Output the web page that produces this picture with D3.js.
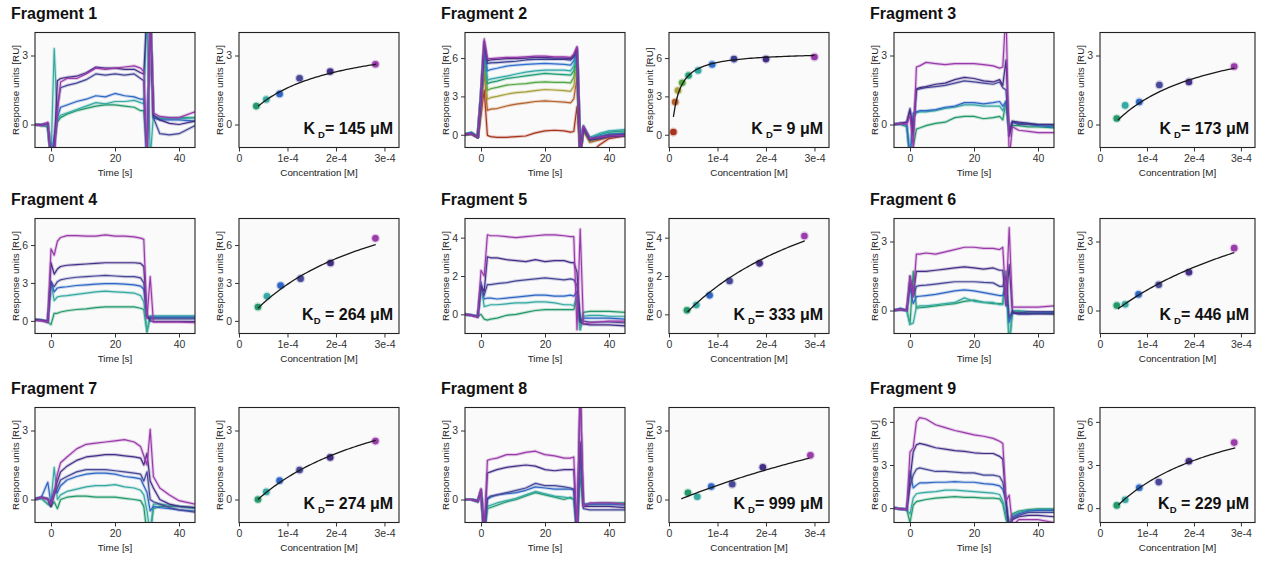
<!DOCTYPE html>
<html>
<head>
<meta charset="utf-8">
<script src="https://cdn.jsdelivr.net/npm/d3@7"></script>
<style>
  body { margin: 0; background: #fff; }
  svg { font-family: "Liberation Sans", Arial, sans-serif; }
</style>
</head>
<body>
<div id="vis"></div>
<script>

// ---- data ----

// time points (s) shared by every sensorgram
var times = [-5, -3, -1, 0, 1, 2, 3, 5, 8, 11, 14, 17, 20, 23, 26, 28, 29, 30, 31, 32, 34, 37, 40, 45];
var timeTicks = [0, 20, 40];
var concTicks = [0, 1e-4, 2e-4, 3e-4];
var concTickLabels = ["0", "1e-4", "2e-4", "3e-4"];

var fragmentNames = ["Fragment 1", "Fragment 2", "Fragment 3", "Fragment 4", "Fragment 5",
                     "Fragment 6", "Fragment 7", "Fragment 8", "Fragment 9"];
var kdValues = [145, 9, 173, 264, 333, 446, 274, 999, 229];
var kdTight = [false, false, false, true, false, false, false, false, true];
var yDomains = [[-1, 4], [-1, 8], [-1, 4], [-1, 8.1], [-1, 5], [-1, 4], [-1, 4], [-1, 4], [-1, 7]];
var yTicks = [[0, 3], [0, 3, 6], [0, 3], [0, 3, 6], [0, 2, 4], [0, 3], [0, 3], [0, 3], [0, 3, 6]];
var rightYLabels = ["Response units [RU]", "Response unit [RU]", "Response units [RU]",
                    "Response units [RU]", "Response units [RU]", "Response units [RU]",
                    "Response units [RU]", "Response units [RU]", "Response units [RU]"];

// colours, lowest concentration first
var colors6 = ["#23996b", "#36aaa2", "#2d66c4", "#474897", "#452e88", "#9a3aab"];
var colors10 = ["#a9331f", "#b4612b", "#a6a03a", "#54a843", "#1f9e74", "#2fa9a8",
                "#2f6fcd", "#3a3f93", "#3f2c85", "#9638a8"];

// sensorgrams (RU), one row per concentration, lowest first
var sgFrag1 = [
  [0, -0.05, -0.1, -1.5, -0.8, 0.1, 0.3, 0.45, 0.6, 0.7, 0.8, 0.85, 0.85, 0.8, 0.75, 0.6, 0.6, -1.5, 5, 0.3, 0.25, 0.3, 0.3, 0.3],
  [0, 0, -0.1, -1.5, 3.3, 0.2, 0.4, 0.5, 0.65, 0.8, 0.95, 0.9, 1.0, 1.0, 1.05, 0.95, 0.9, 5, -1.5, 0.4, 0.3, 0.25, 0.25, 0.3],
  [0, 0, 0.05, -1.5, -0.5, 0.3, 0.75, 0.85, 1.0, 1.1, 1.25, 1.2, 1.35, 1.25, 1.2, 1.1, 1.1, -1.5, 5, 0.3, 0.2, 0.2, 0.2, 0.15],
  [0, -0.05, 0.05, -1.5, -1.5, 0.8, 1.6, 1.7, 1.8, 1.95, 2.2, 2.15, 2.2, 2.15, 2.2, 2.0, 1.9, -1.5, 5, 0.3, -0.4, -0.45, -0.4, -0.05],
  [0, 0, 0.05, -1.5, -1.0, 1.9, 2.0, 2.05, 2.1, 2.25, 2.5, 2.45, 2.45, 2.4, 2.4, 2.25, 2.2, 5, 5, 0.4, 0.2, 0.05, 0.0, 0.15],
  [0, -0.05, 0.1, -1.5, -1.2, 0.5, 1.85, 2.0, 2.0, 2.2, 2.45, 2.4, 2.45, 2.5, 2.55, 2.45, 2.3, -1.5, 5, 0.5, 0.35, 0.3, 0.3, 0.55]
];
var sgFrag2 = [
  [0, 0.05, -0.2, 1.5, 3.5, -0.05, -0.15, -0.2, -0.2, -0.15, -0.1, 0.15, 0.3, 0.35, 0.3, 0.2, 0.25, 2.2, -1.5, -1.5, -1.5, -0.8, -0.3, -0.1],
  [0, 0.05, -0.2, 2.0, 4.8, 1.91, 2.0, 2.05, 2.25, 2.4, 2.49, 2.6, 2.65, 2.6, 2.55, 2.5, 2.8, 4.5, -1.5, 0.3, -0.6, -0.4, -0.2, 0.0],
  [0, 0.05, -0.2, 2.5, 5.5, 2.78, 2.9, 3.0, 3.17, 3.3, 3.35, 3.45, 3.54, 3.5, 3.45, 3.4, 3.8, 5.5, -1.5, 0.4, -0.5, -0.3, -0.1, 0.05],
  [0, 0.1, -0.2, 2.8, 6.2, 3.48, 3.6, 3.7, 3.88, 3.95, 4.0, 4.1, 4.14, 4.1, 4.1, 4.06, 4.5, 6.0, -1.5, 0.5, -0.4, -0.2, 0.05, 0.15],
  [0.05, 0.15, -0.2, 3.0, 6.6, 4.0, 4.1, 4.2, 4.4, 4.5, 4.6, 4.7, 4.8, 4.75, 4.7, 4.66, 5.0, 6.3, -1.5, 0.6, -0.3, 0.0, 0.2, 0.3],
  [0.05, 0.2, -0.15, 3.0, 6.8, 4.27, 4.35, 4.45, 4.58, 4.75, 4.9, 5.0, 5.06, 5.05, 5.05, 5.0, 5.4, 6.5, -1.5, 0.7, -0.2, 0.1, 0.3, 0.4],
  [0, 0.1, -0.2, 3.0, 7.0, 5.0, 5.1, 5.2, 5.37, 5.45, 5.5, 5.55, 5.58, 5.55, 5.5, 5.45, 5.8, 6.6, -1.5, 0.5, -0.3, -0.1, 0.05, 0.1],
  [0, 0.1, -0.2, 3.0, 7.2, 5.58, 5.62, 5.65, 5.7, 5.75, 5.85, 5.9, 5.92, 5.9, 5.9, 5.84, 6.1, 6.7, -1.5, 0.6, -0.4, -0.2, -0.05, 0.0],
  [0, 0.1, -0.2, 3.0, 7.3, 5.8, 5.85, 5.9, 5.95, 5.95, 6.0, 6.05, 6.05, 6.0, 6.0, 5.95, 6.2, 6.8, -1.5, 0.5, -0.4, -0.3, -0.15, -0.1],
  [0, 0.1, -0.2, 3.0, 7.5, 5.95, 5.95, 6.0, 6.05, 6.05, 6.1, 6.15, 6.15, 6.1, 6.1, 6.05, 6.3, 6.9, -1.5, 0.7, -0.3, -0.2, -0.1, -0.05]
];
var sgFrag3 = [
  [0, 0, -0.1, -1.5, -1.0, -0.2, -0.15, -0.05, 0.05, 0.1, 0.3, 0.35, 0.35, 0.25, 0.3, 0.35, 0.2, 1.0, -0.3, -0.05, -0.05, -0.1, -0.1, -0.15],
  [0, 0.05, -0.05, -1.5, 0.3, 0.5, 0.55, 0.55, 0.6, 0.7, 0.75, 0.85, 0.85, 0.8, 0.8, 0.8, 0.6, 1.0, -0.2, 0.1, 0.05, 0.05, 0.0, -0.05],
  [0, 0.05, 0.0, -1.5, 0.5, 0.55, 0.6, 0.6, 0.65, 0.75, 0.8, 0.95, 0.95, 0.9, 0.95, 1.0, 0.8, 1.0, -0.3, 0.1, 0.05, 0.0, -0.05, -0.1],
  [0, 0.05, 0.1, 0.7, -0.2, 1.5, 1.55, 1.6, 1.65, 1.7, 1.8, 1.9, 1.85, 1.8, 1.75, 1.85, 1.6, 1.5, -0.5, 0.1, 0.0, 0.0, 0.0, 0.0],
  [0, 0.05, 0.1, 0.6, -0.5, 1.55, 1.6, 1.65, 1.75, 1.8, 1.95, 2.05, 2.0, 1.9, 1.85, 1.95, 1.7, 2.8, -0.5, 0.15, 0.1, 0.05, 0.0, 0.0],
  [0, 0.05, 0.0, 0.4, -1.0, 2.5, 2.55, 2.7, 2.65, 2.6, 2.65, 2.65, 2.65, 2.6, 2.55, 2.45, 2.5, 5.0, -1.5, -0.1, -0.25, -0.3, -0.35, -0.35]
];
var sgFrag4 = [
  [0.1, 0.05, -0.1, -0.3, 0.6, 0.6, 0.7, 0.8, 0.9, 0.95, 1.05, 1.1, 1.1, 1.1, 1.1, 1.0, 0.9, -0.9, 0.3, 0.25, 0.25, 0.25, 0.25, 0.25],
  [0.1, 0.05, 0.0, 3.0, 1.6, 1.9, 1.95, 2.0, 2.1, 2.2, 2.3, 2.35, 2.3, 2.25, 2.2, 2.0, 1.5, -0.8, 0.4, 0.4, 0.4, 0.4, 0.4, 0.4],
  [0.1, 0.05, 0.0, 3.1, 2.3, 2.6, 2.65, 2.7, 2.8, 2.85, 2.9, 2.95, 2.95, 2.9, 2.85, 2.75, 2.5, 0.3, 0.3, 0.3, 0.3, 0.3, 0.3, 0.3],
  [0.1, 0.05, 0.0, 3.1, 2.7, 3.1, 3.25, 3.35, 3.45, 3.5, 3.55, 3.6, 3.55, 3.5, 3.5, 3.4, 3.0, 0.3, 0.15, 0.15, 0.15, 0.15, 0.15, 0.15],
  [0.1, 0.05, -0.1, 4.6, 3.7, 4.1, 4.3, 4.4, 4.45, 4.5, 4.55, 4.6, 4.6, 4.6, 4.6, 4.55, 4.3, 0.5, 0.0, -0.05, -0.05, -0.05, -0.05, -0.05],
  [0.05, 0.0, -0.1, 5.7, 5.2, 6.3, 6.6, 6.75, 6.75, 6.7, 6.7, 6.8, 6.7, 6.7, 6.65, 6.55, 6.45, 0.2, 3.5, -0.1, -0.1, -0.1, -0.1, -0.15]
];
var sgFrag5 = [
  [0, -0.05, -0.1, 0.0, -0.25, -0.3, -0.25, -0.2, -0.05, 0.0, 0.1, 0.2, 0.25, 0.25, 0.25, 0.25, 0.25, 0.8, -0.8, 0.1, 0.15, 0.15, 0.15, 0.1],
  [0, -0.05, -0.1, 1.5, 0.4, 0.45, 0.5, 0.5, 0.55, 0.6, 0.6, 0.65, 0.65, 0.6, 0.5, 0.5, 0.45, 1.0, -0.8, -0.1, -0.05, -0.05, -0.1, -0.1],
  [0, -0.05, -0.1, 1.7, 0.8, 0.85, 0.85, 0.8, 0.85, 0.9, 0.95, 1.0, 1.0, 0.95, 0.95, 1.0, 0.95, 1.2, -0.3, -0.2, -0.2, -0.2, -0.2, -0.25],
  [0, -0.05, -0.1, 1.4, 1.0, 1.55, 1.55, 1.6, 1.65, 1.75, 1.8, 1.85, 1.9, 1.85, 1.8, 1.85, 1.8, 1.5, -0.3, -0.35, -0.4, -0.4, -0.4, -0.45],
  [0, -0.05, -0.15, 1.5, 1.2, 3.0, 2.95, 2.95, 2.85, 2.8, 2.75, 2.85, 2.75, 2.8, 2.8, 2.7, 2.7, 2.2, -0.4, -0.5, -0.55, -0.55, -0.55, -0.6],
  [0, -0.05, -0.15, 2.3, 2.0, 4.15, 4.1, 4.1, 4.05, 4.0, 4.05, 4.1, 4.15, 4.15, 4.1, 4.05, 4.05, -0.8, 4.45, -0.5, -0.45, -0.4, -0.35, -0.35]
];
var sgFrag6 = [
  [0, 0.05, 0.0, -0.6, 1.7, 0.1, 0.12, 0.15, 0.2, 0.25, 0.3, 0.4, 0.45, 0.35, 0.3, 0.3, 0.3, 1.7, -1.5, -0.1, -0.05, -0.1, -0.1, -0.15],
  [0, 0.05, 0.0, -0.6, -0.55, 0.15, 0.2, 0.2, 0.25, 0.3, 0.35, 0.55, 0.4, 0.35, 0.35, 0.25, 0.25, 1.7, -1.5, 0.0, 0.0, -0.05, -0.1, -0.1],
  [0, 0.1, 0.0, 1.0, 0.3, 0.6, 0.62, 0.65, 0.7, 0.78, 0.85, 0.9, 0.85, 0.78, 0.7, 0.65, 0.65, 1.0, -0.5, -0.1, -0.15, -0.15, -0.1, -0.1],
  [0, 0.05, 0.0, 1.2, 0.6, 1.05, 1.08, 1.1, 1.15, 1.2, 1.25, 1.25, 1.25, 1.22, 1.2, 1.05, 1.05, 1.5, -0.3, -0.05, -0.1, -0.05, -0.05, -0.05],
  [0, 0.05, 0.0, 1.5, 0.7, 1.7, 1.7, 1.7, 1.75, 1.8, 1.85, 1.9, 1.85, 1.8, 1.85, 1.75, 1.75, 0.2, 2.0, -0.1, -0.15, -0.15, -0.15, -0.15],
  [0, 0.05, 0.0, 1.5, 0.6, 2.45, 2.45, 2.5, 2.45, 2.55, 2.65, 2.75, 2.75, 2.7, 2.7, 2.65, 2.75, 0.3, 3.6, 0.15, 0.15, 0.15, 0.15, 0.2]
];
var sgFrag7 = [
  [0, 0.05, -0.2, -0.3, -0.1, -0.4, 0.0, 0.1, 0.15, 0.15, 0.1, 0.1, 0.1, 0.05, 0.0, -0.05, -0.3, -1.5, -1.5, -0.4, -0.3, -0.3, -0.3, -0.35],
  [0, 0.05, -0.2, -0.1, 1.4, 0.0, 0.2, 0.35, 0.45, 0.55, 0.6, 0.6, 0.65, 0.55, 0.5, 0.4, 0.2, -0.5, -1.5, -0.2, -0.2, -0.25, -0.3, -0.4],
  [0.05, 0.1, 0.75, -0.2, 0.4, 0.3, 0.6, 0.85, 1.0, 1.1, 1.15, 1.15, 1.1, 1.0, 0.95, 0.9, 0.6, 0.3, -0.5, -0.3, -0.35, -0.4, -0.45, -0.5],
  [0, 0.1, 0.05, -0.3, 0.2, 0.5, 0.85, 1.0, 1.2, 1.3, 1.3, 1.3, 1.25, 1.2, 1.15, 1.1, 0.8, 1.2, 0.0, -0.1, -0.2, -0.35, -0.45, -0.55],
  [0, 0.1, 0.0, -0.3, 0.3, 0.8, 1.2, 1.45, 1.7, 1.85, 1.9, 1.95, 1.95, 1.9, 1.85, 1.8, 1.5, 2.0, 0.8, 0.5, 0.0, -0.2, -0.3, -0.35],
  [0, 0.1, 0.0, -0.2, 0.3, 1.1, 1.6, 1.85, 2.2, 2.4, 2.45, 2.5, 2.55, 2.6, 2.5, 2.3, 1.9, 1.5, 3.05, 1.0, 0.5, 0.2, -0.05, -0.2]
];
var sgFrag8 = [
  [0, 0.0, -0.1, 0.3, -1.5, -0.4, -0.35, -0.25, -0.1, 0.0, 0.15, 0.3, 0.2, 0.1, 0.0, 0.1, 0.0, -1.5, 1.0, -0.3, -0.2, -0.15, -0.15, -0.15],
  [0, 0.0, -0.1, 0.3, -1.5, -0.3, -0.25, -0.15, -0.05, 0.05, 0.2, 0.35, 0.25, 0.15, 0.1, 0.05, 0.0, -1.5, 1.5, -0.2, -0.2, -0.2, -0.2, -0.2],
  [0, 0.0, -0.05, 0.35, -1.5, 0.0, 0.1, 0.2, 0.25, 0.3, 0.4, 0.55, 0.5, 0.45, 0.45, 0.45, 0.4, -1.5, 2.0, -0.2, -0.2, -0.2, -0.2, -0.25],
  [0, 0.0, -0.05, 0.4, -1.5, 0.05, 0.15, 0.2, 0.3, 0.4, 0.5, 0.7, 0.6, 0.6, 0.55, 0.5, 0.45, -1.5, 2.5, -0.4, -0.45, -0.45, -0.45, -0.45],
  [0, 0.0, -0.1, 0.45, -1.5, 1.15, 1.2, 1.3, 1.4, 1.45, 1.5, 1.45, 1.3, 1.25, 1.3, 1.3, 1.3, -1.5, 5.0, -0.3, -0.3, -0.3, -0.3, -0.35],
  [0, 0.0, -0.1, 0.45, -1.5, 1.7, 1.75, 1.8, 1.95, 1.95, 2.05, 2.1, 1.95, 1.9, 1.8, 1.8, 1.85, -1.5, 5.0, -0.3, -0.15, -0.15, -0.15, -0.2]
];
var sgFrag9 = [
  [0, -0.05, -0.1, -1.0, 0.2, 0.45, 0.5, 0.6, 0.7, 0.75, 0.8, 0.75, 0.75, 0.7, 0.7, 0.65, 0.3, -0.8, -1.2, -0.4, -0.2, -0.1, -0.05, -0.05],
  [0, -0.05, -0.1, -0.4, 0.7, 1.0, 1.05, 1.1, 1.15, 1.25, 1.25, 1.2, 1.15, 1.1, 1.05, 0.95, 0.5, -0.5, -1.2, -0.5, -0.3, -0.15, -0.1, -0.1],
  [0, -0.05, -0.1, 2.6, 1.4, 1.6, 1.75, 1.75, 1.8, 1.8, 1.85, 1.8, 1.8, 1.7, 1.65, 1.55, 1.3, 0.5, -1.5, -0.6, -0.4, -0.2, -0.15, -0.15],
  [0, -0.05, -0.1, 1.5, 2.3, 2.7, 2.8, 2.7, 2.55, 2.55, 2.5, 2.45, 2.45, 2.3, 2.3, 2.2, 1.8, 0.4, -1.5, -0.7, -0.5, -0.3, -0.3, -0.3],
  [0, -0.05, -0.1, 2.0, 3.9, 4.4, 4.5, 4.4, 4.2, 4.1, 4.0, 3.95, 3.85, 3.8, 3.8, 3.6, 3.4, 0.5, -1.5, -0.8, -0.6, -0.5, -0.5, -0.6],
  [0, -0.05, -0.1, 3.9, 4.2, 6.0, 6.3, 6.2, 5.8, 5.6, 5.4, 5.25, 5.1, 5.0, 4.85, 4.65, 4.5, 0.5, 0.9, -1.2, -0.8, -0.8, -0.8, -1.0]
];

// steady-state points: concentration (M) and response (RU)
var concFrag1 = [3.57e-5, 5.63e-5, 8.37e-5, 1.249e-4, 1.881e-4, 2.814e-4];
var respFrag1 = [0.80, 1.09, 1.33, 2.01, 2.30, 2.62];
var concFrag2 = [9.1e-6, 1.27e-5, 1.85e-5, 2.73e-5, 4.04e-5, 6.0e-5, 8.9e-5, 1.34e-4, 2.0e-4, 3.0e-4];
var respFrag2 = [0.21, 2.56, 3.46, 4.06, 4.64, 5.03, 5.50, 5.92, 5.92, 6.08];
var concFrag3 = [3.57e-5, 5.36e-5, 8.36e-5, 1.264e-4, 1.893e-4, 2.857e-4];
var respFrag3 = [0.26, 0.83, 0.98, 1.72, 1.85, 2.52];
var concFrag4 = [3.91e-5, 5.77e-5, 8.58e-5, 1.27e-4, 1.887e-4, 2.814e-4];
var respFrag4 = [1.10, 1.95, 2.79, 3.34, 4.58, 6.53];
var concFrag5 = [3.71e-5, 5.63e-5, 8.37e-5, 1.249e-4, 1.867e-4, 2.793e-4];
var respFrag5 = [0.21, 0.49, 0.99, 1.74, 2.66, 4.09];
var concFrag6 = [3.57e-5, 5.36e-5, 8.21e-5, 1.25e-4, 1.893e-4, 2.857e-4];
var respFrag6 = [0.22, 0.27, 0.70, 1.12, 1.66, 2.71];
var concFrag7 = [3.91e-5, 5.63e-5, 8.37e-5, 1.249e-4, 1.881e-4, 2.814e-4];
var respFrag7 = [0.0, 0.33, 0.82, 1.28, 1.83, 2.54];
var concFrag8 = [3.91e-5, 5.83e-5, 8.72e-5, 1.304e-4, 1.935e-4, 2.917e-4];
var respFrag8 = [0.29, 0.12, 0.56, 0.66, 1.40, 1.92];
var concFrag9 = [3.57e-5, 5.36e-5, 8.36e-5, 1.25e-4, 1.893e-4, 2.857e-4];
var respFrag9 = [0.19, 0.58, 1.42, 1.81, 3.26, 4.56];

// 1:1 binding fit parameters: Rmax, offset and fitted concentration range
var fitRmax = [4.07, 10.2, 5.1, 13.0, 10.47, 7.85, 6.72, 8.85, 9.65];
var fitOffset = [-0.07, -3.7, -0.73, -0.68, -0.95, -0.55, -0.837, -0.19, -1.18];
var fitFrom = [3.9e-5, 9e-6, 3.8e-5, 3.9e-5, 3.8e-5, 3.8e-5, 3.9e-5, 2.54e-5, 3.93e-5];
var fitTo = [2.83e-4, 3.0e-4, 2.86e-4, 2.82e-4, 2.8e-4, 2.86e-4, 2.82e-4, 2.896e-4, 2.88e-4];

var sensorgrams = [sgFrag1, sgFrag2, sgFrag3, sgFrag4, sgFrag5, sgFrag6, sgFrag7, sgFrag8, sgFrag9];
var concs = [concFrag1, concFrag2, concFrag3, concFrag4, concFrag5, concFrag6, concFrag7, concFrag8, concFrag9];
var resps = [respFrag1, respFrag2, respFrag3, respFrag4, respFrag5, respFrag6, respFrag7, respFrag8, respFrag9];

// ---- layout ----
var colX = [0, 430, 859];
var rowY = [0, 186, 375];
var rightX = [239, 669, 1100];
var rightW = [160, 160, 155];
var panelTop = 32.5, panelH = 115, leftW = 160;
var tickColor = "#333";

var svg = d3.select("#vis").append("svg")
  .attr("width", 1262)
  .attr("height", 563);

function styleAxis(g) {
  g.attr("font-family", null).attr("font-size", null);
  g.select(".domain").remove();
  g.selectAll(".tick line").attr("stroke", tickColor);
  g.selectAll(".tick text").attr("fill", tickColor).attr("font-size", 10.5);
}

function panelBox(x0, y0, w, h) {
  svg.append("rect")
    .attr("x", x0).attr("y", y0).attr("width", w).attr("height", h)
    .attr("fill", "#fafafa");
}

function panelFrame(x0, y0, w, h) {
  svg.append("rect")
    .attr("x", x0).attr("y", y0).attr("width", w).attr("height", h)
    .attr("fill", "none").attr("stroke", "#222").attr("stroke-width", 1.1);
}

function yLabel(text, xpos, ymid) {
  svg.append("text")
    .attr("transform", "translate(" + xpos + "," + ymid + ") rotate(-90)")
    .attr("text-anchor", "middle")
    .attr("font-size", 9.8)
    .attr("fill", "#222")
    .text(text);
}

var intFormat = d3.format("d");

function drawFragment(i) {
  var col = i % 3, row = Math.floor(i / 3);
  var ox = colX[col], oy = rowY[row];
  var top = oy + panelTop, bottom = top + panelH;
  var colors = sensorgrams[i].length === 10 ? colors10 : colors6;

  svg.append("text")
    .attr("x", ox + 11).attr("y", oy + 18.5)
    .attr("font-size", 16).attr("font-weight", "bold").attr("fill", "#111")
    .text(fragmentNames[i]);

  // --- sensorgram panel ---
  var lx = ox + 35;
  var x = d3.scaleLinear().domain([-5, 45]).range([lx, lx + leftW]);
  var y = d3.scaleLinear().domain(yDomains[i]).range([bottom, top]);

  panelBox(lx, top, leftW, panelH);

  var clipId = "clip" + i;
  svg.append("clipPath").attr("id", clipId)
    .append("rect").attr("x", lx).attr("y", top).attr("width", leftW).attr("height", panelH);

  var line = d3.line()
    .x(function(v, j) { return x(times[j]); })
    .y(function(v) { return y(v); });

  var lines = svg.append("g").attr("clip-path", "url(#" + clipId + ")");
  sensorgrams[i].forEach(function(series, k) {
    lines.append("path").datum(series)
      .attr("d", line).attr("fill", "none")
      .attr("stroke", colors[k]).attr("stroke-opacity", 0.25)
      .attr("stroke-width", 3.2).attr("stroke-linejoin", "round");
    lines.append("path").datum(series)
      .attr("d", line).attr("fill", "none")
      .attr("stroke", colors[k]).attr("stroke-width", 1.2)
      .attr("stroke-linejoin", "round");
  });

  panelFrame(lx, top, leftW, panelH);

  svg.append("g").attr("transform", "translate(0," + bottom + ")")
    .call(d3.axisBottom(x).tickValues(timeTicks).tickSize(4).tickPadding(3).tickFormat(intFormat))
    .call(styleAxis);
  svg.append("g").attr("transform", "translate(" + lx + ",0)")
    .call(d3.axisLeft(y).tickValues(yTicks[i]).tickSize(4).tickPadding(3).tickFormat(intFormat))
    .call(styleAxis);

  svg.append("text")
    .attr("x", lx + leftW / 2).attr("y", oy + 176)
    .attr("text-anchor", "middle").attr("font-size", 9.8).attr("fill", "#222")
    .text("Time [s]");
  yLabel("Response units [RU]", lx - 16, (top + bottom) / 2);

  // --- binding curve panel ---
  var rx = rightX[col], rw = rightW[col];
  var cx = d3.scaleLinear().domain([0, 3.3e-4]).range([rx, rx + rw]);
  var cy = d3.scaleLinear().domain(yDomains[i]).range([bottom, top]);

  panelBox(rx, top, rw, panelH);

  var kd = kdValues[i] * 1e-6;
  var fitPts = d3.range(0, 61).map(function(s) {
    var c = fitFrom[i] + (fitTo[i] - fitFrom[i]) * s / 60;
    return [c, fitRmax[i] * c / (kd + c) + fitOffset[i]];
  });

  var pts = concs[i].map(function(c, k) { return { c: c, r: resps[i][k], col: colors[k] }; });

  svg.selectAll(null).data(pts).enter().append("circle")
    .attr("cx", function(d) { return cx(d.c); })
    .attr("cy", function(d) { return cy(d.r); })
    .attr("r", 4.6)
    .attr("fill", function(d) { return d.col; })
    .attr("fill-opacity", 0.25);
  svg.selectAll(null).data(pts).enter().append("circle")
    .attr("cx", function(d) { return cx(d.c); })
    .attr("cy", function(d) { return cy(d.r); })
    .attr("r", 3.3)
    .attr("fill", function(d) { return d.col; });

  svg.append("path").datum(fitPts)
    .attr("d", d3.line().x(function(d) { return cx(d[0]); }).y(function(d) { return cy(d[1]); }))
    .attr("fill", "none").attr("stroke", "#1a1a1a").attr("stroke-width", 1.3);

  panelFrame(rx, top, rw, panelH);

  svg.append("g").attr("transform", "translate(0," + bottom + ")")
    .call(d3.axisBottom(cx).tickValues(concTicks).tickSize(4).tickPadding(3)
      .tickFormat(function(d, k) { return concTickLabels[k]; }))
    .call(styleAxis);
  svg.append("g").attr("transform", "translate(" + rx + ",0)")
    .call(d3.axisLeft(cy).tickValues(yTicks[i]).tickSize(4).tickPadding(3).tickFormat(intFormat))
    .call(styleAxis);

  svg.append("text")
    .attr("x", rx + rw / 2).attr("y", oy + 176)
    .attr("text-anchor", "middle").attr("font-size", 9.8).attr("fill", "#222")
    .text("Concentration [M]");
  yLabel(rightYLabels[i], rx - 16, (top + bottom) / 2);

  // K_D label
  var kdText = svg.append("text")
    .attr("x", rx + rw - 6).attr("y", top + 101)
    .attr("text-anchor", "end")
    .attr("font-size", 16).attr("font-weight", "bold").attr("fill", "#111");
  kdText.append("tspan").text("K");
  kdText.append("tspan")
    .attr("font-size", 9.5).attr("dy", 4)
    .attr("dx", kdTight[i] ? 0 : 3)
    .text("D");
  kdText.append("tspan")
    .attr("dy", -4)
    .text((kdTight[i] ? " = " : "= ") + kdValues[i] + " \u03bcM");
}

for (var i = 0; i < sensorgrams.length; i++) drawFragment(i);

</script>
</body>
</html>
